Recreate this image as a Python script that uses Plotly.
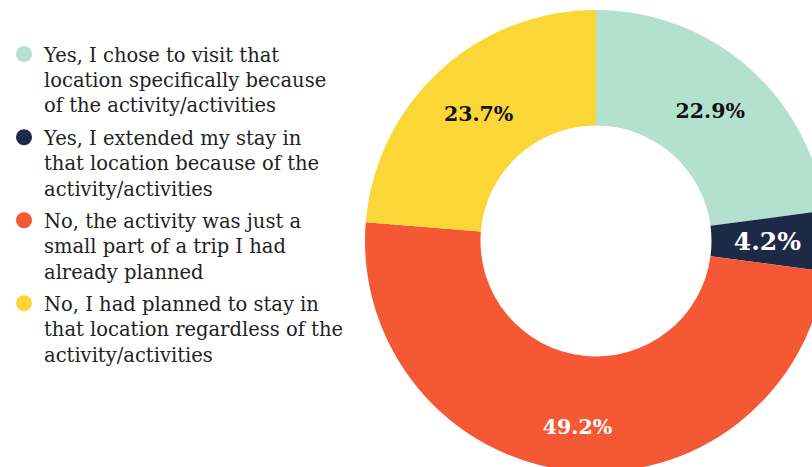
import plotly.graph_objects as go

labels = [
    "Yes, I chose to visit that<br>location specifically because<br>of the activity/activities",
    "Yes, I extended my stay in<br>that location because of the<br>activity/activities",
    "No, the activity was just a<br>small part of a trip I had<br>already planned",
    "No, I had planned to stay in<br>that location regardless of the<br>activity/activities",
]
values = [22.9, 4.2, 49.2, 23.7]
text_labels = ["22.9%", "4.2%", "49.2%", "23.7%"]
colors = ["#b3e0cf", "#1c2a48", "#f55835", "#fbd637"]
text_colors = ["#111111", "#ffffff", "#ffffff", "#111111"]
text_sizes = [20.5, 25, 20.5, 20.5]

# whitespace padding only nudges where plotly places each inside label
NB = "\u00a0"
shown_text = [
    text_labels[0],
    text_labels[1] + NB * 2,
    NB + "<br>" + text_labels[2],
    text_labels[3],
]

W, H = 830, 480
cx, cy, r = 596, 241, 231
dom = dict(x=[(cx - r) / W, (cx + r) / W], y=[(H - cy - r) / H, (H - cy + r) / H])

fig = go.Figure()
fig.add_trace(go.Pie(
    labels=labels, values=values, text=shown_text, textinfo="text",
    sort=False, direction="clockwise", rotation=0, hole=0.5,
    marker=dict(colors=colors, line=dict(width=0)),
    textposition="inside", insidetextorientation="horizontal",
    textfont=dict(family="DejaVu Serif", size=text_sizes, color=text_colors, weight="bold"),
    domain=dom, showlegend=False, hoverinfo="skip",
))
for i, (lab, col) in enumerate(zip(labels, colors)):
    fig.add_trace(go.Scatter(
        x=[None], y=[None], mode="markers", name=lab, legendgroup=f"g{i}",
        marker=dict(color=col, size=16, symbol="circle"), showlegend=True,
    ))

fig.update_layout(
    width=W, height=H, autosize=False,
    margin=dict(l=0, r=0, t=0, b=0),
    paper_bgcolor="white", plot_bgcolor="white",
    xaxis=dict(visible=False), yaxis=dict(visible=False),
    legend=dict(
        x=4 / W, y=1 - 35 / H, xanchor="left", yanchor="top",
        valign="top", tracegroupgap=4,
        font=dict(family="DejaVu Serif", size=19.5, color="#222222"),
        bgcolor="rgba(0,0,0,0)",
    ),
)
fig.write_html("out.html")
